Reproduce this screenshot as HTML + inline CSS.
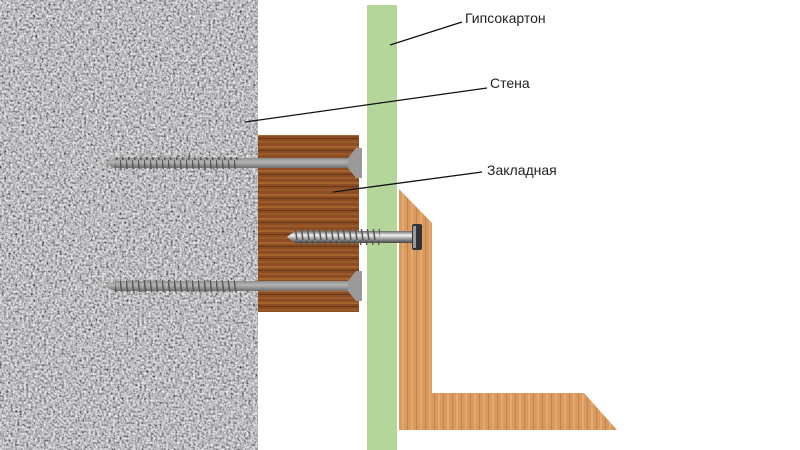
<!DOCTYPE html>
<html><head><meta charset="utf-8"><style>
html,body{margin:0;padding:0;background:#fff;}
svg{display:block}
text{font-family:"Liberation Sans",sans-serif;font-size:14px;fill:#222}
</style></head><body>
<svg width="800" height="450" viewBox="0 0 800 450" xmlns="http://www.w3.org/2000/svg">
<defs>
<filter id="gran" x="0" y="0" width="100%" height="100%">
<feTurbulence type="fractalNoise" baseFrequency="0.45" numOctaves="2" seed="3"/>
<feColorMatrix type="matrix" values="1.6 0 0 0 -0.3  1.6 0 0 0 -0.3  1.6 0 0 0 -0.28  0 0 0 0 1"/>
</filter>
<pattern id="wood" width="100" height="12" patternUnits="userSpaceOnUse">
<rect width="100" height="12" fill="#8b4d24"/>
<rect y="2" width="100" height="2" fill="#a8642f"/>
<rect y="6" width="100" height="1" fill="#6a3616"/>
<rect y="9" width="100" height="2" fill="#9a5a2a"/>
</pattern>
<pattern id="oak" width="9" height="40" patternUnits="userSpaceOnUse">
<rect width="9" height="40" fill="#d99a60"/>
<rect x="2" width="1" height="40" fill="#c7834a"/>
<rect x="6" width="2" height="40" fill="#e2aa72"/>
</pattern>
<linearGradient id="steel" x1="0" y1="0" x2="0" y2="1">
<stop offset="0" stop-color="#8d8d8d"/><stop offset="0.4" stop-color="#b5b5b5"/><stop offset="1" stop-color="#6e6e6e"/>
</linearGradient>
<linearGradient id="chrome" x1="0" y1="0" x2="0" y2="1">
<stop offset="0" stop-color="#666"/><stop offset="0.35" stop-color="#f2f2f2"/><stop offset="0.6" stop-color="#aaa"/><stop offset="1" stop-color="#444"/>
</linearGradient>
<pattern id="thread" width="6" height="20" patternUnits="userSpaceOnUse">
<rect width="6" height="20" fill="none"/><line x1="0" y1="0" x2="3" y2="20" stroke="#555" stroke-width="1.5"/>
</pattern>
</defs>
<rect x="0" y="0" width="258" height="450" fill="#bcbcbc"/>
<rect x="0" y="0" width="258" height="450" filter="url(#gran)" opacity="0.8"/>
<rect x="367" y="5" width="30" height="445" fill="#b5d69a"/>
<rect x="258" y="135" width="101" height="177" fill="url(#wood)"/>
<polygon points="399,189 432,223 432,393 584,393 617,430 399,430" fill="url(#oak)"/>
<g>
<polygon points="103,163 115,158 350,158 350,168 115,168" fill="url(#steel)"/>
<rect x="115" y="157" width="125" height="12" fill="url(#thread)"/>
<polygon points="348,158 356,148 362,148 362,178 356,178 348,168" fill="#9a9a9a"/>
<polygon points="103,286 115,281 350,281 350,291 115,291" fill="url(#steel)"/>
<rect x="115" y="280" width="125" height="12" fill="url(#thread)"/>
<polygon points="348,281 356,271 362,271 362,301 356,301 348,291" fill="#9a9a9a"/>
</g>
<g>
<polygon points="287,237 295,231 412,231 412,243 295,243" fill="url(#chrome)"/>
<rect x="295" y="229" width="85" height="16" fill="url(#thread)"/>
<rect x="412" y="224" width="10" height="26" rx="2" fill="#333"/>
<rect x="413" y="226" width="3" height="22" fill="#999"/>
</g>
<g stroke="#111" stroke-width="1.3">
<line x1="390" y1="45" x2="462" y2="22"/>
<line x1="245" y1="122" x2="487" y2="88"/>
<line x1="333" y1="192" x2="482" y2="172"/>
</g>
<text x="465" y="23">Гипсокартон</text>
<text x="490" y="88">Стена</text>
<text x="487" y="175">Закладная</text>
</svg>
</body></html>
